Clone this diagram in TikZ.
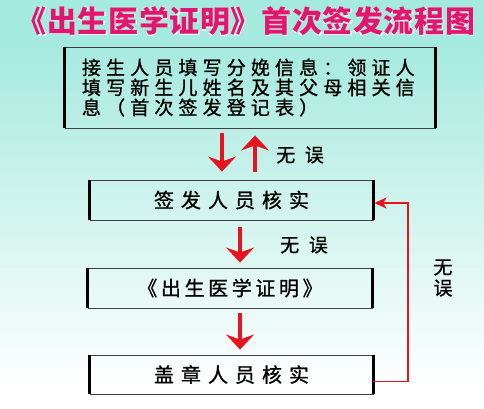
\documentclass[tikz,border=0pt]{standalone}
\usepackage{fontspec}
\newfontfamily\titlefont[LetterSpace=2]{Noto Sans CJK SC}
\newfontfamily\titleout[LetterSpace=2,FakeBold=6]{Noto Sans CJK SC}
\newfontfamily\boxfontA[LetterSpace=27,FakeBold=1]{Noto Sans CJK SC}
\newfontfamily\boxfontB[LetterSpace=35,FakeBold=1]{Noto Sans CJK SC}
\newfontfamily\boxfontC[LetterSpace=18,FakeBold=1]{Noto Sans CJK SC}
\newfontfamily\labfont[LetterSpace=50,FakeBold=1]{Noto Sans CJK SC}
\newfontfamily\vlabfont[FakeBold=1]{Noto Sans CJK SC}
\usetikzlibrary{arrows.meta}
\definecolor{titlepink}{RGB}{226,22,110}
\definecolor{arrred}{RGB}{230,20,30}
\tikzset{
  flowbox/.style={draw=black!75, line width=0.9pt, inner sep=0pt, minimum height=40pt},
  sideedge/.style={line width=2.6pt, black},
  bigarrow/.style={arrred, line width=4pt, -{Stealth[length=15pt,width=28pt,inset=5pt]}},
  backline/.style={arrred, line width=1.6pt, -{Stealth[length=12pt,width=11pt,inset=3pt]}},
  lab/.style={text=black, inner sep=0pt},
}
\begin{document}
\begin{tikzpicture}[x=1pt,y=-1pt]
% background gradient in strips (aqua at top fading to white)
\foreach \i in {0,...,101}{
  \pgfmathsetmacro\mixf{max(0,min(1,(383-4*\i)/345))}
  \pgfmathtruncatemacro\cr{255-90*\mixf}
  \pgfmathtruncatemacro\cg{255-21*\mixf}
  \pgfmathtruncatemacro\cb{255-33*\mixf}
  \definecolor{stripcol}{RGB}{\cr,\cg,\cb}
  \fill[stripcol] (0,4*\i) rectangle (484,4*\i+4.4);
}
\useasboundingbox (0,0) rectangle (484,408);
% title with white outline
\node (titleback) [text=white, inner sep=0pt, font=\titleout\fontsize{30}{32}\selectfont] at (246,21) {《出生医学证明》首次签发流程图};
\node (title) [text=titlepink, inner sep=0pt, font=\titlefont\bfseries\fontsize{30}{32}\selectfont] at (246,21) {《出生医学证明》首次签发流程图};
% boxes
\node (b1) [flowbox, minimum width=370pt, minimum height=81pt, text width=336pt, align=left, font=\boxfontA\fontsize{19}{20}\selectfont] at (250,87.5)
  {接生人员填写分娩信息：领证人\\填写新生儿姓名及其父母相关信\\息（首次签发登记表）};
\node (b2) [flowbox, minimum width=283pt, font=\boxfontB\fontsize{20}{22}\selectfont] at (231.5,200) {签发人员核实};
\node (b3) [flowbox, minimum width=284pt, font=\boxfontC\fontsize{20}{22}\selectfont] at (230,288) {《出生医学证明》};
\node (b4) [flowbox, minimum width=283pt, minimum height=39pt, font=\boxfontB\fontsize{20}{22}\selectfont] at (231.5,374.5) {盖章人员核实};
\foreach \b in {b1,b2,b3,b4}{
  \draw[sideedge] (\b.north west) -- (\b.south west);
  \draw[sideedge] (\b.north east) -- (\b.south east);
}
% arrow positions
\coordinate (xa) at (222,0);
\coordinate (xb) at (255,0);
\coordinate (xc) at (240,0);
\coordinate (xr) at (408,0);
\draw[bigarrow, shorten <=5pt, shorten >=8pt] (b1.south -| xa) -- (b2.north -| xa);
\draw[bigarrow, shorten <=8pt, shorten >=7pt] (b2.north -| xb) -- (b1.south -| xb);
\draw[bigarrow, shorten <=7pt, shorten >=5pt] (b2.south -| xc) -- (b3.north -| xc);
\draw[bigarrow, shorten <=5pt, shorten >=5pt] (b3.south -| xc) -- (b4.north -| xc);
\node (l1) [lab, font=\labfont\fontsize{19}{20}\selectfont] at (300,155) {无误};
\node (l2) [lab, font=\labfont\fontsize{19}{20}\selectfont] at (304,245) {无误};
% feedback line
\coordinate (r1) at ([yshift=-7pt]b4.east);
\coordinate (r2) at ([yshift=-3pt]b2.east);
\draw[backline] (r1) -| (xr |- r2) -- ([xshift=1pt]r2);
\node (l3) [lab, align=center, font=\vlabfont\fontsize{19}{21}\selectfont] at (443,278) {无\\误};
\end{tikzpicture}
\end{document}
